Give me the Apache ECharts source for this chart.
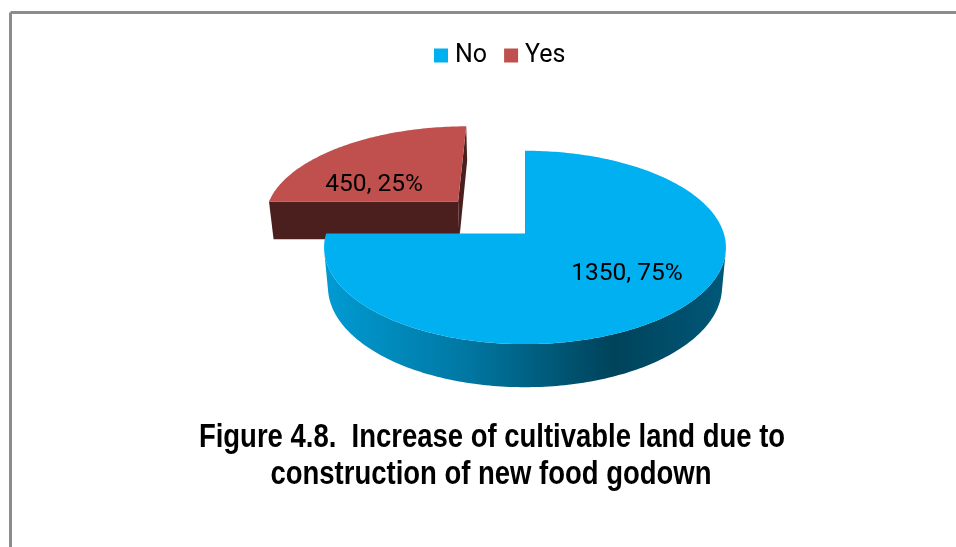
<!DOCTYPE html>
<html>
<head>
<meta charset="utf-8">
<script src="https://cdn.jsdelivr.net/npm/echarts@6/dist/echarts.min.js"></script>
<style>
  html, body { margin: 0; padding: 0; background: #ffffff; }
  #chart { width: 956px; height: 547px; }
</style>
</head>
<body>
<div id="chart"></div>
<script>
// Survey answers
const categories = ['No', 'Yes'];
const counts = [1350, 450];
const sliceColors = ['#00b0f0', '#c0504d'];
const explodedSlices = [false, true];
const titleLines = [
  'Figure 4.8.  Increase of cultivable land due to',
  'construction of new food godown'
];

// Camera / solid setup for the tilted pie (unit radius disc)
const VIEW = {
  cx: 525, cy: 272.5, focal: 1186, dist: 6.08,
  tilt: 30.3 * Math.PI / 180, thick: 0.2275, explode: 0.5
};
const SA = Math.sin(VIEW.tilt), CA = Math.cos(VIEW.tilt);
const CAM = [0, VIEW.dist * SA, VIEW.dist * CA];

function project(p) {
  const up = p[1] * CA - p[2] * SA;
  const depth = VIEW.dist - (p[2] * CA + p[1] * SA);
  return [VIEW.cx + VIEW.focal * p[0] / depth, VIEW.cy - VIEW.focal * up / depth];
}

const total = counts.reduce((a, b) => a + b, 0);

function sliceGeometry(i) {
  let start = 0;
  for (let k = 0; k < i; k++) start += counts[k] / total * Math.PI * 2;
  const end = start + counts[i] / total * Math.PI * 2;
  const mid = (start + end) / 2;
  const off = explodedSlices[i] ? VIEW.explode : 0;
  return { start, end, mid, ox: off * Math.sin(mid), oz: -off * Math.cos(mid) };
}

// angle measured clockwise from 12 o'clock (far side of the disc)
function rim(g, t, r, y) {
  return [g.ox + r * Math.sin(t), y, g.oz - r * Math.cos(t)];
}

function faces(p, n) {
  return (CAM[0] - p[0]) * n[0] + (CAM[1] - p[1]) * n[1] + (CAM[2] - p[2]) * n[2] > 0;
}

function shade(hex, k) {
  const v = parseInt(hex.slice(1), 16);
  const r = Math.round(((v >> 16) & 255) * k);
  const g = Math.round(((v >> 8) & 255) * k);
  const b = Math.round((v & 255) * k);
  return 'rgb(' + r + ',' + g + ',' + b + ')';
}

// back slices first
const depthOrder = categories.map((_, i) => {
  const g = sliceGeometry(i);
  return { i, z: g.oz - 0.5 * Math.cos(g.mid) };
}).sort((a, b) => a.z - b.z).map(o => o.i);

function makeRenderItem(i) {
  return function (params, api) {
    const value = api.value(0);
    const g = sliceGeometry(i);
    const H = VIEW.thick;
    const color = sliceColors[i];
    const base = depthOrder.indexOf(i) * 10;
    const children = [];

    // outer wall: the run of the rim that faces the camera
    const steps = Math.max(8, Math.ceil((g.end - g.start) / (Math.PI / 180)));
    const top = [], bottom = [];
    for (let s = 0; s <= steps; s++) {
      const t = g.start + (g.end - g.start) * s / steps;
      const n = [Math.sin(t), 0, -Math.cos(t)];
      if (faces(rim(g, t, 1, H / 2), n)) {
        top.push(project(rim(g, t, 1, H)));
        bottom.push(project(rim(g, t, 1, 0)));
      }
    }
    if (top.length > 1) {
      const pts = top.concat(bottom.reverse());
      const xs = pts.map(p => p[0]);
      const x0 = Math.min.apply(null, xs), x1 = Math.max.apply(null, xs);
      children.push({
        type: 'polygon', z2: base + 1,
        shape: { points: pts },
        style: {
          fill: new echarts.graphic.LinearGradient(x0, 0, x1, 0, [
            { offset: 0, color: shade(color, 0.88) },
            { offset: 0.35, color: shade(color, 0.68) },
            { offset: 0.72, color: shade(color, 0.38) },
            { offset: 1, color: shade(color, 0.5) }
          ], true)
        }
      });
    }

    // the two cut faces along the radii
    const cuts = [
      { t: g.start, n: [-Math.cos(g.start), 0, -Math.sin(g.start)] },
      { t: g.end, n: [Math.cos(g.end), 0, Math.sin(g.end)] }
    ];
    cuts.forEach(c => {
      if (faces(rim(g, c.t, 0.5, H / 2), c.n)) {
        children.push({
          type: 'polygon', z2: base + 1,
          shape: { points: [
            project(rim(g, c.t, 0, H)), project(rim(g, c.t, 1, H)),
            project(rim(g, c.t, 1, 0)), project(rim(g, c.t, 0, 0))
          ] },
          style: { fill: shade(color, 0.39) }
        });
      }
    });

    // top face
    const face = [project(rim(g, 0, 0, H))];
    for (let s = 0; s <= steps; s++) {
      face.push(project(rim(g, g.start + (g.end - g.start) * s / steps, 1, H)));
    }
    children.push({
      type: 'polygon', z2: base + 2,
      shape: { points: face },
      style: { fill: color }
    });

    // value label, set a little below the anchor point on the top face
    const lp = project([g.ox + 0.685 * Math.sin(g.mid), H, g.oz - 0.45 * Math.cos(g.mid)]);
    children.push({
      type: 'text', z2: 100,
      x: lp[0] + 1, y: lp[1] + 9,
      style: {
        text: value + ', ' + Math.round(value / total * 100) + '%',
        font: '24.5px Roboto', fill: '#000000',
        align: 'center', verticalAlign: 'middle'
      }
    });

    return { type: 'group', children };
  };
}

const chart = echarts.init(document.getElementById('chart'), null, { renderer: 'canvas' });

chart.setOption({
  animation: false,
  backgroundColor: '#ffffff',
  legend: {
    data: categories,
    left: 434, top: 43, padding: 0,
    icon: 'rect', itemWidth: 14, itemHeight: 14, itemGap: 17,
    textStyle: { fontFamily: 'Roboto', fontSize: 25, color: '#000000', padding: [0, 0, 0, 2] }
  },
  graphic: [
    { type: 'line', shape: { x1: 10.5, y1: 12.5, x2: 956, y2: 12.5 }, style: { stroke: '#8c8c8c', lineWidth: 3 } },
    { type: 'line', shape: { x1: 10.5, y1: 12.5, x2: 10.5, y2: 547 }, style: { stroke: '#8c8c8c', lineWidth: 3 } },
    {
      type: 'text', x: 492, y: 438, scaleX: 0.82, originX: 0,
      style: { text: titleLines[0], font: 'bold 33.5px "Liberation Sans"', fill: '#000000', align: 'center', verticalAlign: 'middle' }
    },
    {
      type: 'text', x: 491, y: 475, scaleX: 0.82, originX: 0,
      style: { text: titleLines[1], font: 'bold 33.5px "Liberation Sans"', fill: '#000000', align: 'center', verticalAlign: 'middle' }
    }
  ],
  series: categories.map((name, i) => ({
    type: 'custom',
    name: name,
    coordinateSystem: 'none',
    itemStyle: { color: sliceColors[i] },
    data: [counts[i]],
    renderItem: makeRenderItem(i)
  }))
});
</script>
</body>
</html>
